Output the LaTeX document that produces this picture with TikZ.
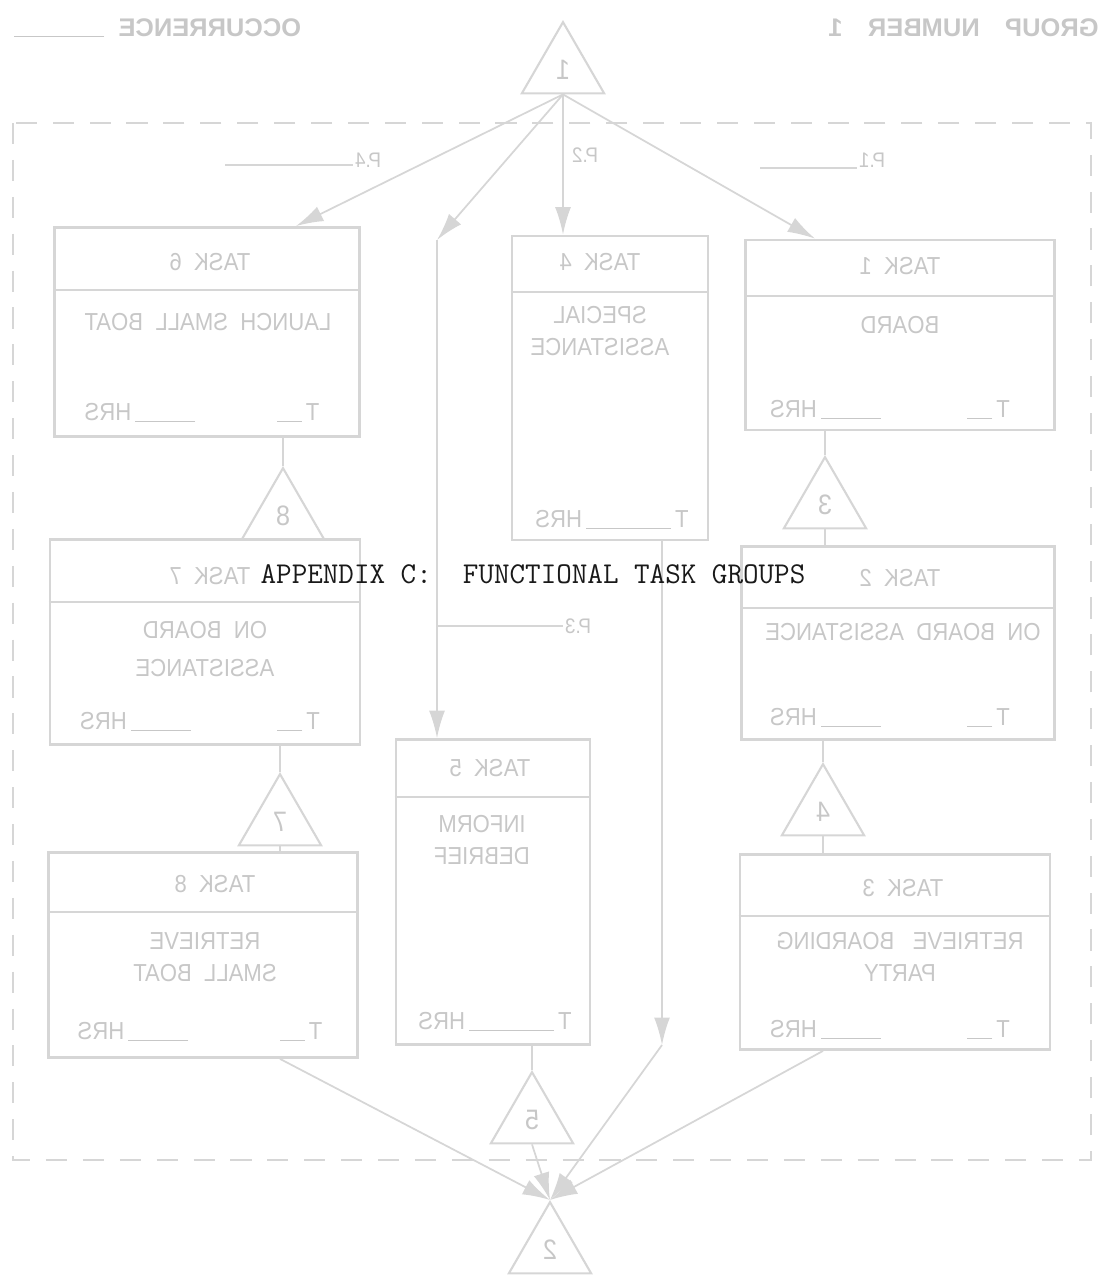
\documentclass[tikz,border=0pt]{standalone}
\usepackage{fontspec}
\usepackage{graphicx}
\usetikzlibrary{shapes.geometric,arrows.meta}
\newfontfamily\faintfont[FakeStretch=0.9]{Liberation Sans}
\newfontfamily\headfont{Liberation Sans}
\definecolor{faintink}{gray}{0.78}
\definecolor{faintline}{gray}{0.84}
% bottom row of a task box, seen mirrored
\newcommand{\hrsrow}[1]{\reflectbox{\makebox[#1]{T\,\rule[-1pt]{0.5cm}{0.6pt}\hfill\rule[-1pt]{1.2cm}{0.6pt}\,HRS}}}
\tikzset{
    task/.style={
           rectangle,
           draw=faintline, line width=1.6pt,
           inner sep=0pt,
           },
    sepline/.style={draw=faintline, line width=1.4pt},
    tri/.style={
           regular polygon, regular polygon sides=3,
           draw=faintline, line width=1.2pt,
           minimum size=1.9cm, inner sep=0pt,
           anchor=corner 1,
           text=faintink, font=\faintfont\fontsize{16}{16}\selectfont,
           },
    lbl/.style={text=faintink, inner sep=1pt, font=\faintfont\fontsize{14}{16}\selectfont},
    plbl/.style={text=faintink, inner sep=1pt, font=\faintfont\fontsize{12}{14}\selectfont},
    head/.style={text=faintink, inner sep=0pt, font=\headfont\bfseries\fontsize{14.5}{16}\selectfont},
    flow/.style={draw=faintline, line width=1pt, ->},
    rule/.style={draw=faintline, line width=0.8pt},
    frame/.style={draw=faintline, line width=1.2pt, dash pattern=on 12pt off 9pt},
}
\begin{document}
\begin{tikzpicture}[x=0.02cm, y=-0.02cm, >={Latex[length=0.55cm,width=0.32cm]}]
    \useasboundingbox (0,0) rectangle (1103,1281);

    % page head, showing through from the back of the sheet
    \node[head, anchor=west] (occur) at (14,28) {\reflectbox{OCCURRENCE\ \ \rule{1.8cm}{0.6pt}}};
    \node[head, anchor=east] (groupno) at (1099,28) {\reflectbox{GROUP\quad NUMBER\quad 1}};

    % dashed frame round the group
    \coordinate (frameNW) at (13,123);
    \coordinate (frameSE) at (1091,1160);
    \draw[frame] (frameNW) rectangle (frameSE);

    % entry and exit triangles, and the ones between tasks
    \node[tri] (tri1) at (563,20)   {\reflectbox{1}};
    \node[tri] (tri8) at (283,466)  {\reflectbox{8}};
    \node[tri] (tri7) at (280,772)  {\reflectbox{7}};
    \node[tri] (tri3) at (825,455)  {\reflectbox{3}};
    \node[tri] (tri4) at (823,762)  {\reflectbox{4}};
    \node[tri] (tri5) at (532,1070) {\reflectbox{5}};
    \node[tri] (tri2) at (550,1200) {\reflectbox{2}};

    % left column
    \node[task, minimum width=6.1cm, minimum height=4.18cm] (t6) at (207,332) {};
    \draw[sepline] (t6.west |- 0,290) -- (t6.east |- 0,290);
    \node[lbl] (t6title) at (210,262) {\reflectbox{TASK\ \ 6}};
    \node[lbl] (t6body) at (208,322) {\reflectbox{LAUNCH\ \ SMALL\ \ BOAT}};
    \node[lbl] (t6hrs) at (202,413) {\hrsrow{4.7cm}};

    \node[task, minimum width=6.2cm, minimum height=4.1cm] (t7) at (205,642) {};
    \draw[sepline] (t7.west |- 0,602) -- (t7.east |- 0,602);
    \node[lbl] (t7title) at (210,576) {\reflectbox{TASK\ \ 7}};
    \node[lbl] (t7body) at (205,652) {\reflectbox{\begin{tabular}{c}ON\ \ BOARD\\[6pt] ASSISTANCE\end{tabular}}};
    \node[lbl] (t7hrs) at (200,722) {\hrsrow{4.8cm}};

    \node[task, minimum width=6.18cm, minimum height=4.1cm] (t8) at (203,955) {};
    \draw[sepline] (t8.west |- 0,912) -- (t8.east |- 0,912);
    \node[lbl] (t8title) at (215,884) {\reflectbox{TASK\ \ 8}};
    \node[lbl] (t8body) at (205,960) {\reflectbox{\begin{tabular}{c}RETRIEVE\\[2pt] SMALL\ \ BOAT\end{tabular}}};
    \node[lbl] (t8hrs) at (200,1032) {\hrsrow{4.9cm}};

    % middle column
    \node[task, minimum width=3.92cm, minimum height=6.08cm] (t4) at (610,388) {};
    \draw[sepline] (t4.west |- 0,292) -- (t4.east |- 0,292);
    \node[lbl] (t4title) at (600,262) {\reflectbox{TASK\ \ 4}};
    \node[lbl] (t4body) at (600,334) {\reflectbox{\begin{tabular}{c}SPECIAL\\[2pt] ASSISTANCE\end{tabular}}};
    \node[lbl] (t4hrs) at (612,520) {\hrsrow{2.8cm}};

    \node[task, minimum width=3.88cm, minimum height=6.1cm] (t5) at (493,892) {};
    \draw[sepline] (t5.west |- 0,797) -- (t5.east |- 0,797);
    \node[lbl] (t5title) at (490,768) {\reflectbox{TASK\ \ 5}};
    \node[lbl] (t5body) at (482,843) {\reflectbox{\begin{tabular}{c}INFORM\\[2pt] DEBRIEF\end{tabular}}};
    \node[lbl] (t5hrs) at (495,1022) {\hrsrow{2.7cm}};

    % right column
    \node[task, minimum width=6.18cm, minimum height=3.8cm] (t1) at (900,335) {};
    \draw[sepline] (t1.west |- 0,296) -- (t1.east |- 0,296);
    \node[lbl] (t1title) at (900,266) {\reflectbox{TASK\ \ 1}};
    \node[lbl] (t1body) at (900,325) {\reflectbox{BOARD}};
    \node[lbl] (t1hrs) at (890,410) {\hrsrow{4.8cm}};

    \node[task, minimum width=6.26cm, minimum height=3.86cm] (t2) at (898,643) {};
    \draw[sepline] (t2.west |- 0,608) -- (t2.east |- 0,608);
    \node[lbl] (t2title) at (900,578) {\reflectbox{TASK\ \ 2}};
    \node[lbl] (t2body) at (903,632) {\reflectbox{ON\ \ BOARD\ \ ASSISTANCE}};
    \node[lbl] (t2hrs) at (890,718) {\hrsrow{4.8cm}};

    \node[task, minimum width=6.2cm, minimum height=3.9cm] (t3) at (895,952) {};
    \draw[sepline] (t3.west |- 0,916) -- (t3.east |- 0,916);
    \node[lbl] (t3title) at (903,888) {\reflectbox{TASK\ \ 3}};
    \node[lbl] (t3body) at (900,960) {\reflectbox{\begin{tabular}{c}RETRIEVE\ \ \ BOARDING\\[2pt] PARTY\end{tabular}}};
    \node[lbl] (t3hrs) at (890,1030) {\hrsrow{4.8cm}};

    % branch labels
    \node[plbl] (p4) at (368,160) {\reflectbox{P.4}};
    \node[plbl] (p2) at (585,155) {\reflectbox{P.2}};
    \node[plbl] (p1) at (872,160) {\reflectbox{P.1}};
    \node[plbl] (p3) at (578,626) {\reflectbox{P.3}};
    \coordinate (p4end) at (225,165);
    \coordinate (p1end) at (760,168);
    \draw[rule] (p4.west |- p4end) -- (p4end);
    \draw[rule] (p1.west |- p1end) -- (p1end);

    % the flow
    \coordinate (kinkL) at (437,240);
    \coordinate (kinkR) at (662,1045);
    \draw[flow] (tri1.side 2) -- ([xshift=-1.3cm]t6.north east);
    \draw[flow] (tri1.side 2) -- (kinkL);
    \draw[flow] (kinkL) -- (kinkL |- t5.north);
    \draw[rule] (kinkL |- p3) -- (p3.west);
    \draw[flow] (tri1.side 2) -- (tri1.side 2 |- t4.north);
    \draw[flow] (tri1.side 2) -- ([xshift=-1.7cm]t1.north);

    \draw[rule] (tri8.corner 1 |- t6.south) -- (tri8.corner 1);
    \draw[rule] (tri8.side 2) -- (tri8.side 2 |- t7.north);
    \draw[rule] (tri7.corner 1 |- t7.south) -- (tri7.corner 1);
    \draw[rule] (tri7.side 2) -- (tri7.side 2 |- t8.north);
    \draw[rule] (tri3.corner 1 |- t1.south) -- (tri3.corner 1);
    \draw[rule] (tri3.side 2) -- (tri3.side 2 |- t2.north);
    \draw[rule] (tri4.corner 1 |- t2.south) -- (tri4.corner 1);
    \draw[rule] (tri4.side 2) -- (tri4.side 2 |- t3.north);
    \draw[rule] (tri5.corner 1 |- t5.south) -- (tri5.corner 1);

    \draw[flow] (kinkR |- t4.south) -- (kinkR);
    \draw[flow] (kinkR) -- (tri2.corner 1);
    \draw[flow] (tri7.corner 1 |- t8.south) -- (tri2.corner 1);
    \draw[flow] (tri5.side 2) -- (tri2.corner 1);
    \draw[flow] (tri4.corner 1 |- t3.south) -- (tri2.corner 1);

    % the text on this side of the sheet
    \node[text=black!90, font=\ttfamily\fontsize{17.2}{20}\selectfont] (title) at (533,574)
        {APPENDIX C:\ \ FUNCTIONAL TASK GROUPS};
\end{tikzpicture}
\end{document}
